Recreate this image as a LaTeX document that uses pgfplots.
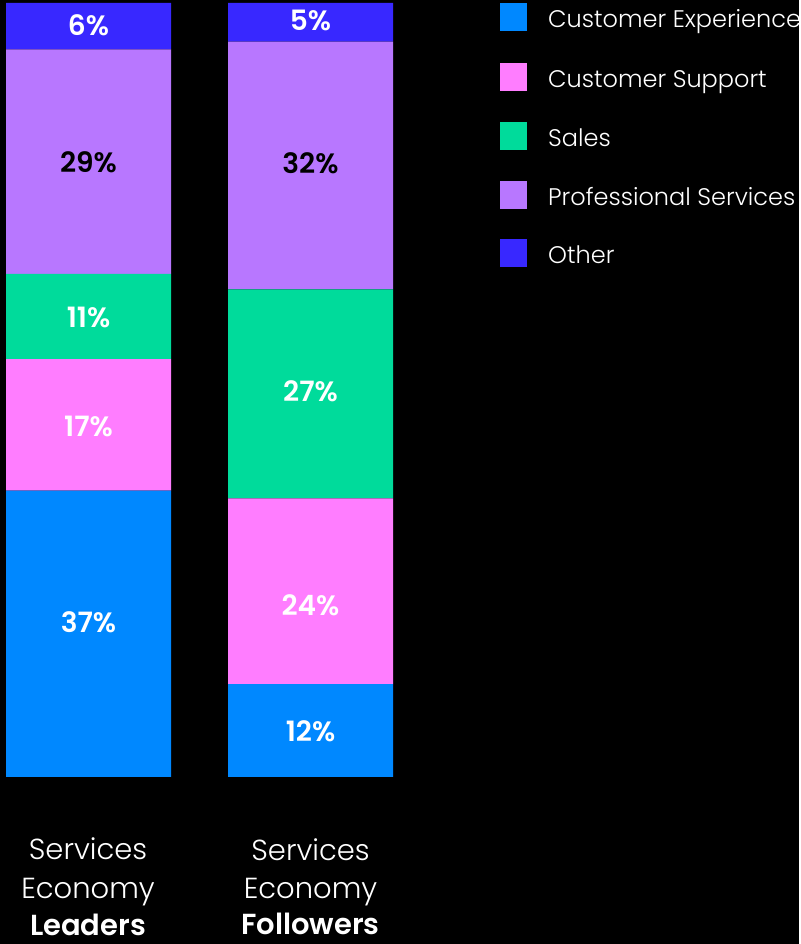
\documentclass[border=0pt]{standalone}
\usepackage{pgfplots}
\pgfplotsset{compat=1.18}
\usepackage{fontspec}
\setmainfont{Poppins}
\newfontfamily\lightfont{Poppins Light}
\newfontfamily\boldfont{Poppins SemiBold}
\definecolor{cexp}{HTML}{0088FF}
\definecolor{csup}{HTML}{FF7DFF}
\definecolor{csal}{HTML}{00DB9B}
\definecolor{cpro}{HTML}{B877FF}
\definecolor{coth}{HTML}{3828FF}
\begin{document}
\begin{tikzpicture}
\fill[black] (0pt,0pt) rectangle (799pt,944pt);
\begin{axis}[at={(0pt,167pt)}, anchor=south west, scale only axis,
  width=799pt, height=774pt, xmin=0, xmax=799, ymin=0, ymax=100,
  axis lines=none, ybar stacked, bar width=165pt]
\addplot[fill=cexp, draw=none] coordinates {(88.5,37) (310.5,12)};
\addplot[fill=csup, draw=none] coordinates {(88.5,17) (310.5,24)};
\addplot[fill=csal, draw=none] coordinates {(88.5,11) (310.5,27)};
\addplot[fill=cpro, draw=none] coordinates {(88.5,29) (310.5,32)};
\addplot[fill=coth, draw=none] coordinates {(88.5,6) (310.5,5)};
\end{axis}
\begin{scope}[x=1pt,y=1pt]
% value labels
\begin{scope}[every node/.style={font=\boldfont\fontsize{28}{30}\selectfont, inner sep=0pt, anchor=center}]
\node[white] at (88.5,944-622) {37\%};
\node[white] at (88.5,944-426) {17\%};
\node[white] at (88.5,944-317) {11\%};
\node[black] at (88.5,944-162) {29\%};
\node[white] at (88.5,944-25) {6\%};
\node[white] at (310.5,944-731) {12\%};
\node[white] at (310.5,944-605) {24\%};
\node[white] at (310.5,944-391) {27\%};
\node[black] at (310.5,944-163) {32\%};
\node[white] at (310.5,944-20) {5\%};
\end{scope}
% category labels
\begin{scope}[every node/.style={text=white, inner sep=0pt, anchor=base}]
\node[font=\lightfont\fontsize{29}{31}\selectfont] at (88,944-860) {Services};
\node[font=\lightfont\fontsize{29}{31}\selectfont] at (88,944-899) {Economy};
\node[font=\boldfont\fontsize{29}{31}\selectfont] at (88,944-935) {Leaders};
\node[font=\lightfont\fontsize{29}{31}\selectfont] at (310.5,944-861) {Services};
\node[font=\lightfont\fontsize{29}{31}\selectfont] at (310.5,944-899) {Economy};
\node[font=\boldfont\fontsize{29}{31}\selectfont] at (310.5,944-934.5) {Followers};
\end{scope}
% legend
\begin{scope}[every node/.style={text=white, inner sep=0pt, anchor=base west, font=\lightfont\fontsize{24}{26}\selectfont}]
\fill[cexp] (500,944-31.5) rectangle (527,944-3.5);
\node at (548,944-28) {Customer Experience};
\fill[csup] (500,944-91) rectangle (527,944-63);
\node at (548,944-87.5) {Customer Support};
\fill[csal] (500,944-150) rectangle (527,944-122);
\node at (548,944-146.5) {Sales};
\fill[cpro] (500,944-209) rectangle (527,944-181);
\node at (548,944-205.5) {Professional Services};
\fill[coth] (500,944-267) rectangle (527,944-239);
\node at (548,944-263.5) {Other};
\end{scope}
\end{scope}
\end{tikzpicture}
\end{document}
